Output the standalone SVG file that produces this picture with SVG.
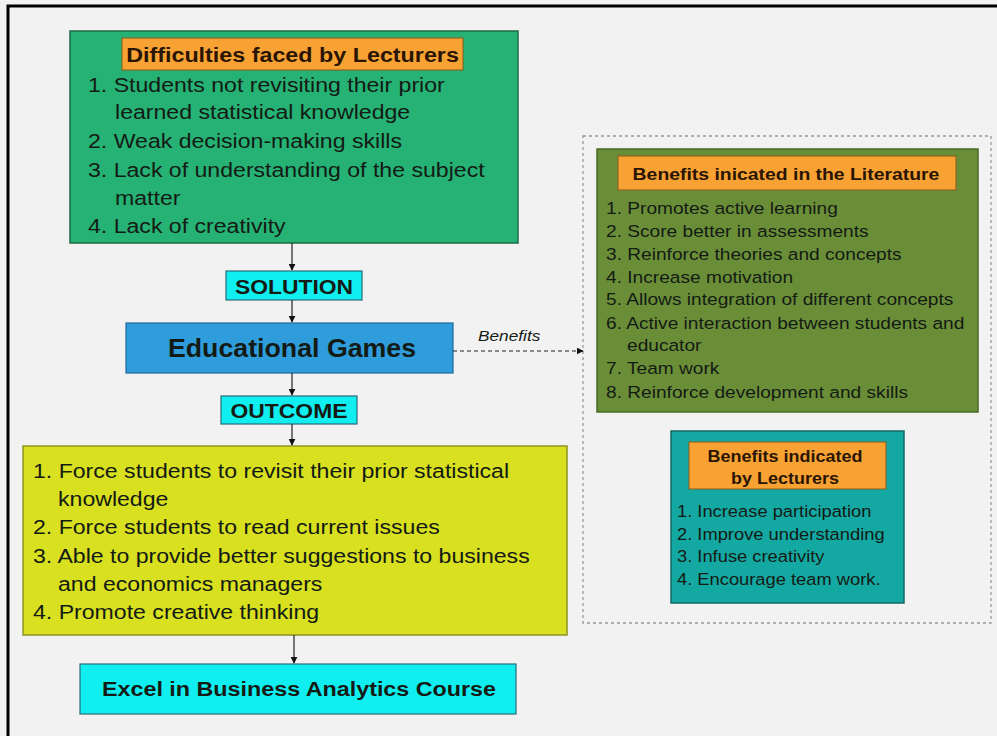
<svg xmlns="http://www.w3.org/2000/svg" width="997" height="736" viewBox="0 0 997 736">
<defs>
<style>
.t{font-family:"Liberation Sans",Arial,sans-serif;fill:#141a14}
.b{font-weight:bold}
.l20{font-size:21px}
.l15{font-size:16.5px}
.ttl{fill:#2a1505}
.conn{stroke:#222;stroke-width:1.2;fill:none}
</style>
<marker id="ah" viewBox="0 0 10 10" refX="9" refY="5" markerWidth="7" markerHeight="7" orient="auto" markerUnits="userSpaceOnUse">
<path d="M0,0 L10,5 L0,10 z" fill="#111"/>
</marker>
</defs>
<rect x="0" y="0" width="997" height="736" fill="#f2f2f2"/>
<path d="M8,736 V6 H997" fill="none" stroke="#000" stroke-width="3"/>

<g id="difficulties">
<rect x="70" y="31" width="448" height="212" fill="#25b274" stroke="#1d6b45" stroke-width="1.5"/>
<rect x="122" y="38" width="341" height="32" fill="#f7a233" stroke="#8a5a1a" stroke-width="1"/>
<text class="t b l20 ttl" transform="translate(292.5,62) scale(1.11,1)" text-anchor="middle">Difficulties faced by Lecturers</text>
<text class="t l20" transform="translate(88,92) scale(1.1,1)">1. Students not revisiting their prior</text>
<text class="t l20" transform="translate(115,119) scale(1.1,1)">learned statistical knowledge</text>
<text class="t l20" transform="translate(88,148) scale(1.1,1)">2. Weak decision-making skills</text>
<text class="t l20" transform="translate(88,177) scale(1.1,1)">3. Lack of understanding of the subject</text>
<text class="t l20" transform="translate(115,205) scale(1.1,1)">matter</text>
<text class="t l20" transform="translate(88,233) scale(1.1,1)">4. Lack of creativity</text>
</g>

<g id="solution">
<rect x="226" y="271" width="136" height="29" fill="#11eef0" stroke="#2a6b7a" stroke-width="1.2"/>
<text class="t b l20" transform="translate(294,293.5) scale(1.09,1)" text-anchor="middle">SOLUTION</text>
</g>

<g id="games">
<rect x="126" y="323" width="327" height="50" fill="#2f9ddc" stroke="#1f6a99" stroke-width="1.2"/>
<text class="t b" transform="translate(292,357) scale(1.07,1)" text-anchor="middle" font-size="25">Educational Games</text>
</g>

<g id="outcome">
<rect x="221" y="396" width="136" height="28" fill="#11eef0" stroke="#2a6b7a" stroke-width="1.2"/>
<text class="t b l20" transform="translate(289,417.5) scale(1.09,1)" text-anchor="middle">OUTCOME</text>
</g>

<g id="outcomes-list">
<rect x="23" y="446" width="544" height="189" fill="#d8e020" stroke="#8f9422" stroke-width="1.5"/>
<text class="t l20" transform="translate(33,478) scale(1.1,1)">1. Force students to revisit their prior statistical</text>
<text class="t l20" transform="translate(58,506) scale(1.1,1)">knowledge</text>
<text class="t l20" transform="translate(33,534) scale(1.1,1)">2. Force students to read current issues</text>
<text class="t l20" transform="translate(33,563) scale(1.1,1)">3. Able to provide better suggestions to business</text>
<text class="t l20" transform="translate(58,591) scale(1.1,1)">and economics managers</text>
<text class="t l20" transform="translate(33,619) scale(1.1,1)">4. Promote creative thinking</text>
</g>

<g id="excel">
<rect x="80" y="664" width="436" height="50" fill="#11eef0" stroke="#2a6b7a" stroke-width="1.2"/>
<text class="t b l20" transform="translate(299,696) scale(1.11,1)" text-anchor="middle">Excel in Business Analytics Course</text>
</g>

<g id="benefits-container">
<rect x="583" y="136" width="408" height="487" fill="none" stroke="#999" stroke-width="1.3" stroke-dasharray="3,3"/>
</g>

<g id="literature">
<rect x="597" y="149" width="381" height="263" fill="#6a8e38" stroke="#4a6a28" stroke-width="1.5"/>
<rect x="618" y="156" width="338" height="34" fill="#f7a233" stroke="#8a5a1a" stroke-width="1"/>
<text class="t b ttl" transform="translate(786,180) scale(1.14,1)" text-anchor="middle" font-size="17">Benefits inicated in the Literature</text>
<text class="t l15" transform="translate(606,214) scale(1.16,1)">1. Promotes active learning</text>
<text class="t l15" transform="translate(606,237) scale(1.16,1)">2. Score better in assessments</text>
<text class="t l15" transform="translate(606,260) scale(1.16,1)">3. Reinforce theories and concepts</text>
<text class="t l15" transform="translate(606,283) scale(1.16,1)">4. Increase motivation</text>
<text class="t l15" transform="translate(606,305) scale(1.16,1)">5. Allows integration of different concepts</text>
<text class="t l15" transform="translate(606,329) scale(1.16,1)">6. Active interaction between students and</text>
<text class="t l15" transform="translate(627,351) scale(1.16,1)">educator</text>
<text class="t l15" transform="translate(606,374) scale(1.16,1)">7. Team work</text>
<text class="t l15" transform="translate(606,398) scale(1.16,1)">8. Reinforce development and skills</text>
</g>

<g id="lecturers">
<rect x="671" y="431" width="233" height="172" fill="#14a8a2" stroke="#106a66" stroke-width="1.5"/>
<rect x="689" y="442" width="197" height="47" fill="#f7a233" stroke="#8a5a1a" stroke-width="1"/>
<text class="t b ttl" transform="translate(785,462) scale(1.09,1)" text-anchor="middle" font-size="16.5">Benefits indicated</text>
<text class="t b ttl" transform="translate(785,484) scale(1.09,1)" text-anchor="middle" font-size="16.5">by Lecturers</text>
<text class="t l15" transform="translate(677,517) scale(1.11,1)">1. Increase participation</text>
<text class="t l15" transform="translate(677,540) scale(1.11,1)">2. Improve understanding</text>
<text class="t l15" transform="translate(677,562) scale(1.11,1)">3. Infuse creativity</text>
<text class="t l15" transform="translate(677,585) scale(1.11,1)">4. Encourage team work.</text>
</g>

<g id="connectors">
<line class="conn" x1="292" y1="243" x2="292" y2="270" marker-end="url(#ah)"/>
<line class="conn" x1="292" y1="300" x2="292" y2="322" marker-end="url(#ah)"/>
<line class="conn" x1="292" y1="373" x2="292" y2="395" marker-end="url(#ah)"/>
<line class="conn" x1="292" y1="424" x2="292" y2="445" marker-end="url(#ah)"/>
<line class="conn" x1="294" y1="635" x2="294" y2="663" marker-end="url(#ah)"/>
<line class="conn" x1="453" y1="351" x2="583" y2="351" stroke-dasharray="4,3" marker-end="url(#ah)"/>
<text class="t" transform="translate(478,341) scale(1.15,1)" font-size="15" font-style="italic">Benefits</text>
</g>
</svg>
